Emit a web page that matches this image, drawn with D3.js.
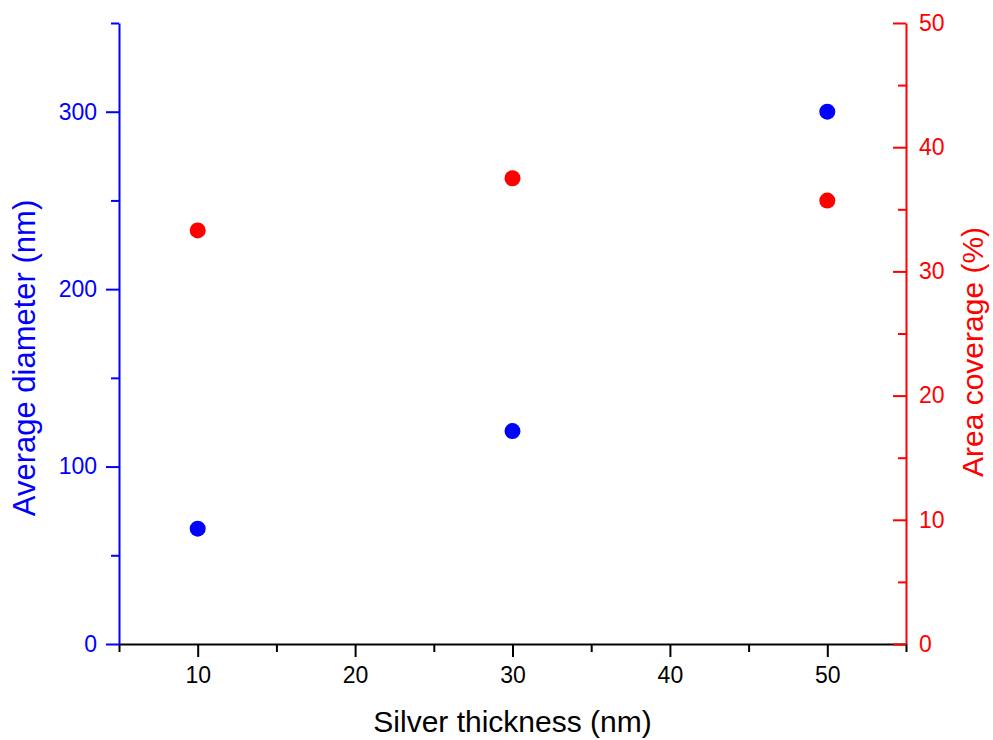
<!DOCTYPE html>
<html>
<head>
<meta charset="utf-8">
<script src="https://cdn.jsdelivr.net/npm/d3@7"></script>
<style>
	body { margin: 0; background: #fff; }
	svg text { font-family: Arial, "Liberation Sans", sans-serif; }
</style>
</head>
<body>
<div id="chart"></div>
<script>
	///////////////////////////////////////////////////////////////////////////
	//////////////////////////////// Data /////////////////////////////////////
	///////////////////////////////////////////////////////////////////////////

	var thickness = [10, 30, 50];
	var diameter = [65, 120, 300];
	var coverage = [33.3, 37.5, 35.7];

	var xTicks = [10, 20, 30, 40, 50];
	var xMinorTicks = [5, 15, 25, 35, 45, 55];
	var leftTicks = [0, 100, 200, 300];
	var leftMinorTicks = [50, 150, 250, 350];
	var rightTicks = [0, 10, 20, 30, 40, 50];
	var rightMinorTicks = [5, 15, 25, 35, 45];

	var blue = "#0000ff",
		red = "#ff0000";

	///////////////////////////////////////////////////////////////////////////
	//////////////////////////// Set up the SVG ///////////////////////////////
	///////////////////////////////////////////////////////////////////////////

	var W = 993, H = 740;
	var margin = { top: 23, right: 87, bottom: 96, left: 119 };
	var width = W - margin.left - margin.right;
	var height = H - margin.top - margin.bottom;

	var svg = d3.select("#chart").append("svg")
		.attr("width", W)
		.attr("height", H);

	var g = svg.append("g")
		.attr("transform", "translate(" + margin.left + "," + margin.top + ")");

	var x = d3.scaleLinear().domain([5, 55]).range([0, width]);
	var yL = d3.scaleLinear().domain([0, 350]).range([height, 0]);
	var yR = d3.scaleLinear().domain([0, 50]).range([height, 0]);

	var majorLen = 13, minorLen = 8;

	function styleAxis(sel, color) {
		sel.selectAll("path").attr("stroke", color).attr("stroke-width", 2);
		sel.selectAll("line").attr("stroke", color).attr("stroke-width", 2);
		sel.selectAll("text").attr("fill", color).style("font-size", "23px");
	}

	///////////////////////////////////////////////////////////////////////////
	/////////////////////////////// Axes //////////////////////////////////////
	///////////////////////////////////////////////////////////////////////////

	//Bottom axis
	var xAxisMinor = g.append("g")
		.attr("transform", "translate(0," + height + ")")
		.call(d3.axisBottom(x).tickValues(xMinorTicks).tickSize(minorLen).tickSizeOuter(0).tickFormat(""));
	styleAxis(xAxisMinor, "#000");
	var xAxis = g.append("g")
		.attr("transform", "translate(0," + height + ")")
		.call(d3.axisBottom(x).tickValues(xTicks).tickSize(majorLen).tickSizeOuter(0).tickPadding(10));
	styleAxis(xAxis, "#000");
	xAxis.select("path").remove();

	//Left axis
	var yLMinor = g.append("g")
		.call(d3.axisLeft(yL).tickValues(leftMinorTicks).tickSize(minorLen).tickSizeOuter(0).tickFormat(""));
	styleAxis(yLMinor, blue);
	var yLAxis = g.append("g")
		.call(d3.axisLeft(yL).tickValues(leftTicks).tickSize(majorLen).tickSizeOuter(0).tickPadding(9));
	styleAxis(yLAxis, blue);
	yLAxis.select("path").remove();

	//Right axis, ticks pointing inward
	var yRMinor = g.append("g")
		.attr("transform", "translate(" + width + ",0)")
		.call(d3.axisRight(yR).tickValues(rightMinorTicks).tickSize(-minorLen).tickSizeOuter(0).tickFormat(""));
	styleAxis(yRMinor, red);
	var yRAxis = g.append("g")
		.attr("transform", "translate(" + width + ",0)")
		.call(d3.axisRight(yR).tickValues(rightTicks).tickSize(-majorLen).tickSizeOuter(0));
	styleAxis(yRAxis, red);
	yRAxis.select("path").remove();
	yRAxis.selectAll("text").attr("x", 13);

	///////////////////////////////////////////////////////////////////////////
	/////////////////////////////// Points ////////////////////////////////////
	///////////////////////////////////////////////////////////////////////////

	g.selectAll(".dot-diameter")
		.data(thickness)
		.enter().append("circle")
		.attr("class", "dot-diameter")
		.attr("cx", function(d) { return x(d); })
		.attr("cy", function(d, i) { return yL(diameter[i]); })
		.attr("r", 8)
		.style("fill", blue);

	g.selectAll(".dot-coverage")
		.data(thickness)
		.enter().append("circle")
		.attr("class", "dot-coverage")
		.attr("cx", function(d) { return x(d); })
		.attr("cy", function(d, i) { return yR(coverage[i]); })
		.attr("r", 8)
		.style("fill", red);

	///////////////////////////////////////////////////////////////////////////
	/////////////////////////////// Titles ////////////////////////////////////
	///////////////////////////////////////////////////////////////////////////

	svg.append("text")
		.attr("x", margin.left + width / 2)
		.attr("y", 732)
		.attr("text-anchor", "middle")
		.style("font-size", "30px")
		.attr("fill", "#000")
		.text("Silver thickness (nm)");

	svg.append("text")
		.attr("transform", "translate(35,358) rotate(-90)")
		.attr("text-anchor", "middle")
		.style("font-size", "31px")
		.attr("fill", blue)
		.text("Average diameter (nm)");

	svg.append("text")
		.attr("transform", "translate(983,352) rotate(-90)")
		.attr("text-anchor", "middle")
		.style("font-size", "30px")
		.attr("fill", red)
		.text("Area coverage (%)");
</script>
</body>
</html>
